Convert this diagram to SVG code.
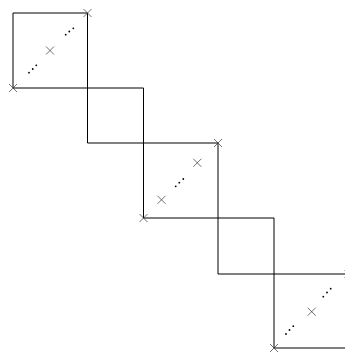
<svg xmlns="http://www.w3.org/2000/svg" width="345" height="352" viewBox="0 0 345 352">
<style>
.ln{stroke:#000;stroke-width:1;fill:none}
.cx{stroke:#333;stroke-width:0.7;fill:none}
.dt{fill:#000}
</style>
<defs>
<path id="x" class="cx" d="M-4,-4L4,4M-4,4L4,-4"/>
</defs>
<rect width="345" height="352" fill="#fff"/>
<g id="connectors">
<path class="ln" d="M13,88V13H87.5"/>
<path class="ln" d="M13,88H143.5M87.5,13V143"/>
<path class="ln" d="M87.5,143H218M143.5,88V218"/>
<path class="ln" d="M143.5,218H274M218,143V274"/>
<path class="ln" d="M218,274H345M274,218V348"/>
<path class="ln" d="M274,348H345"/>
</g>
<g id="block1">
<use href="#x" x="87.5" y="13"/>
<use href="#x" x="13" y="88"/>
<use href="#x" x="50" y="50.5"/>
<circle class="dt" cx="29" cy="72.7" r="0.9"/>
<circle class="dt" cx="32.7" cy="69" r="0.9"/>
<circle class="dt" cx="36.3" cy="65.3" r="0.9"/>
<circle class="dt" cx="65.7" cy="34.7" r="0.9"/>
<circle class="dt" cx="69.3" cy="31.5" r="0.9"/>
<circle class="dt" cx="73.3" cy="28.3" r="0.9"/>
</g>
<g id="block2">
<use href="#x" x="218" y="143"/>
<use href="#x" x="143.5" y="218"/>
<use href="#x" x="197.3" y="162.8"/>
<use href="#x" x="161.5" y="199.8"/>
<circle class="dt" cx="175.7" cy="186.3" r="0.9"/>
<circle class="dt" cx="179.3" cy="182.7" r="0.9"/>
<circle class="dt" cx="183.3" cy="179" r="0.9"/>
</g>
<g id="block3">
<use href="#x" x="348.5" y="274"/>
<use href="#x" x="274" y="348"/>
<use href="#x" x="311.7" y="311.7"/>
<circle class="dt" cx="286" cy="334" r="0.9"/>
<circle class="dt" cx="289.5" cy="330" r="0.9"/>
<circle class="dt" cx="293.3" cy="326.2" r="0.9"/>
<circle class="dt" cx="323.3" cy="296.7" r="0.9"/>
<circle class="dt" cx="327" cy="292.5" r="0.9"/>
<circle class="dt" cx="330.7" cy="288.7" r="0.9"/>
</g>
</svg>
